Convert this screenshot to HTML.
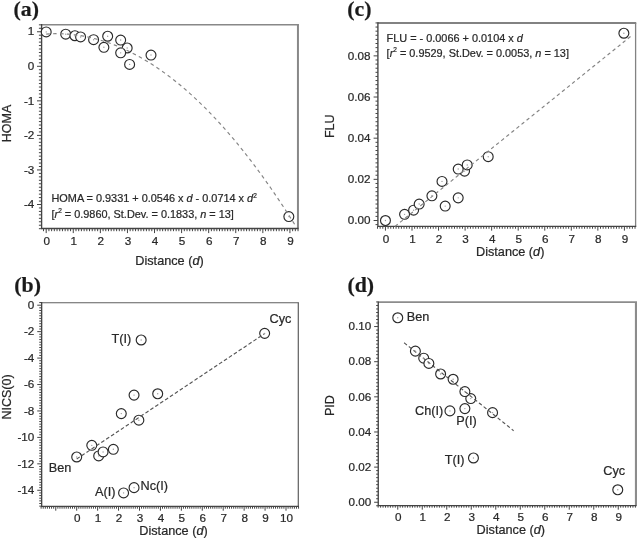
<!DOCTYPE html><html><head><meta charset="utf-8"><title>Figure</title>
<style>html,body{margin:0;padding:0;background:#fff}svg{display:block}text{stroke:#282828;stroke-width:.22px}</style></head><body>
<svg width="637" height="538" viewBox="0 0 637 538" font-family='"Liberation Sans", sans-serif' fill="#282828">
<rect width="637" height="538" fill="#fff"/>
<path d="M41.6 24.75H298.95" fill="none" stroke="#888" stroke-width="1.7"/>
<path d="M297.95 24.75V228.5" fill="none" stroke="#888" stroke-width="2.0"/>
<path d="M43.49 228.5v2.7M46.20 228.5v4.6M48.91 228.5v2.7M51.62 228.5v2.7M54.32 228.5v2.7M57.03 228.5v2.7M59.74 228.5v2.7M62.45 228.5v2.7M65.16 228.5v2.7M67.86 228.5v2.7M70.57 228.5v2.7M73.28 228.5v4.6M75.99 228.5v2.7M78.70 228.5v2.7M81.40 228.5v2.7M84.11 228.5v2.7M86.82 228.5v2.7M89.53 228.5v2.7M92.24 228.5v2.7M94.94 228.5v2.7M97.65 228.5v2.7M100.36 228.5v4.6M103.07 228.5v2.7M105.78 228.5v2.7M108.48 228.5v2.7M111.19 228.5v2.7M113.90 228.5v2.7M116.61 228.5v2.7M119.32 228.5v2.7M122.02 228.5v2.7M124.73 228.5v2.7M127.44 228.5v4.6M130.15 228.5v2.7M132.86 228.5v2.7M135.56 228.5v2.7M138.27 228.5v2.7M140.98 228.5v2.7M143.69 228.5v2.7M146.40 228.5v2.7M149.10 228.5v2.7M151.81 228.5v2.7M154.52 228.5v4.6M157.23 228.5v2.7M159.94 228.5v2.7M162.64 228.5v2.7M165.35 228.5v2.7M168.06 228.5v2.7M170.77 228.5v2.7M173.48 228.5v2.7M176.18 228.5v2.7M178.89 228.5v2.7M181.60 228.5v4.6M184.31 228.5v2.7M187.02 228.5v2.7M189.72 228.5v2.7M192.43 228.5v2.7M195.14 228.5v2.7M197.85 228.5v2.7M200.56 228.5v2.7M203.26 228.5v2.7M205.97 228.5v2.7M208.68 228.5v4.6M211.39 228.5v2.7M214.10 228.5v2.7M216.80 228.5v2.7M219.51 228.5v2.7M222.22 228.5v2.7M224.93 228.5v2.7M227.64 228.5v2.7M230.34 228.5v2.7M233.05 228.5v2.7M235.76 228.5v4.6M238.47 228.5v2.7M241.18 228.5v2.7M243.88 228.5v2.7M246.59 228.5v2.7M249.30 228.5v2.7M252.01 228.5v2.7M254.72 228.5v2.7M257.42 228.5v2.7M260.13 228.5v2.7M262.84 228.5v4.6M265.55 228.5v2.7M268.26 228.5v2.7M270.96 228.5v2.7M273.67 228.5v2.7M276.38 228.5v2.7M279.09 228.5v2.7M281.80 228.5v2.7M284.50 228.5v2.7M287.21 228.5v2.7M289.92 228.5v4.6M292.63 228.5v2.7M295.34 228.5v2.7M298.04 228.5v2.7" fill="none" stroke="#444" stroke-width="1"/>
<path d="M41.6 228.69h-2.7M41.6 225.23h-2.7M41.6 221.77h-2.7M41.6 218.32h-2.7M41.6 214.86h-2.7M41.6 211.41h-2.7M41.6 207.95h-2.7M41.6 204.50h-4.6M41.6 201.05h-2.7M41.6 197.59h-2.7M41.6 194.13h-2.7M41.6 190.68h-2.7M41.6 187.22h-2.7M41.6 183.77h-2.7M41.6 180.31h-2.7M41.6 176.86h-2.7M41.6 173.40h-2.7M41.6 169.95h-4.6M41.6 166.50h-2.7M41.6 163.04h-2.7M41.6 159.58h-2.7M41.6 156.13h-2.7M41.6 152.68h-2.7M41.6 149.22h-2.7M41.6 145.76h-2.7M41.6 142.31h-2.7M41.6 138.85h-2.7M41.6 135.40h-4.6M41.6 131.94h-2.7M41.6 128.49h-2.7M41.6 125.03h-2.7M41.6 121.58h-2.7M41.6 118.12h-2.7M41.6 114.67h-2.7M41.6 111.22h-2.7M41.6 107.76h-2.7M41.6 104.31h-2.7M41.6 100.85h-4.6M41.6 97.39h-2.7M41.6 93.94h-2.7M41.6 90.48h-2.7M41.6 87.03h-2.7M41.6 83.57h-2.7M41.6 80.12h-2.7M41.6 76.66h-2.7M41.6 73.21h-2.7M41.6 69.75h-2.7M41.6 66.30h-4.6M41.6 62.84h-2.7M41.6 59.39h-2.7M41.6 55.93h-2.7M41.6 52.48h-2.7M41.6 49.02h-2.7M41.6 45.57h-2.7M41.6 42.11h-2.7M41.6 38.66h-2.7M41.6 35.20h-2.7M41.6 31.75h-4.6M41.6 28.29h-2.7M41.6 24.84h-2.7" fill="none" stroke="#444" stroke-width="1"/>
<path d="M41.6 24.75V228.5H297.95" fill="none" stroke="#444" stroke-width="1.35" stroke-linecap="square"/>
<text x="46.70" y="244.8" text-anchor="middle" font-size="11.7">0</text>
<text x="73.78" y="244.8" text-anchor="middle" font-size="11.7">1</text>
<text x="100.86" y="244.8" text-anchor="middle" font-size="11.7">2</text>
<text x="127.94" y="244.8" text-anchor="middle" font-size="11.7">3</text>
<text x="155.02" y="244.8" text-anchor="middle" font-size="11.7">4</text>
<text x="182.10" y="244.8" text-anchor="middle" font-size="11.7">5</text>
<text x="209.18" y="244.8" text-anchor="middle" font-size="11.7">6</text>
<text x="236.26" y="244.8" text-anchor="middle" font-size="11.7">7</text>
<text x="263.34" y="244.8" text-anchor="middle" font-size="11.7">8</text>
<text x="290.42" y="244.8" text-anchor="middle" font-size="11.7">9</text>
<text x="34.3" y="208.20" text-anchor="end" font-size="11.7">-4</text>
<text x="34.3" y="173.65" text-anchor="end" font-size="11.7">-3</text>
<text x="34.3" y="139.10" text-anchor="end" font-size="11.7">-2</text>
<text x="34.3" y="104.55" text-anchor="end" font-size="11.7">-1</text>
<text x="34.3" y="70.00" text-anchor="end" font-size="11.7">0</text>
<text x="34.3" y="35.45" text-anchor="end" font-size="11.7">1</text>
<text x="169.5" y="264.8" text-anchor="middle" font-size="12.7">Distance (<tspan font-style="italic">d</tspan>)</text>
<text transform="translate(10.7 123.5) rotate(-90)" text-anchor="middle" font-size="12.5">HOMA</text>
<text x="13.6" y="16.3" font-family='"Liberation Serif", serif' font-weight="bold" font-size="21.8" fill="#1a1a1a">(a)</text>
<circle cx="46.20" cy="31.92" r="4.95" fill="#fff" stroke="#2a2a2a" stroke-width="1.15"/>
<circle cx="65.70" cy="34.17" r="4.95" fill="#fff" stroke="#2a2a2a" stroke-width="1.15"/>
<circle cx="74.90" cy="35.72" r="4.95" fill="#fff" stroke="#2a2a2a" stroke-width="1.15"/>
<circle cx="80.59" cy="36.93" r="4.95" fill="#fff" stroke="#2a2a2a" stroke-width="1.15"/>
<circle cx="93.59" cy="39.70" r="4.95" fill="#fff" stroke="#2a2a2a" stroke-width="1.15"/>
<circle cx="103.88" cy="47.30" r="4.95" fill="#fff" stroke="#2a2a2a" stroke-width="1.15"/>
<circle cx="107.67" cy="36.24" r="4.95" fill="#fff" stroke="#2a2a2a" stroke-width="1.15"/>
<circle cx="127.17" cy="47.99" r="4.95" fill="#fff" stroke="#2a2a2a" stroke-width="1.15"/>
<circle cx="120.67" cy="40.04" r="4.95" fill="#fff" stroke="#2a2a2a" stroke-width="1.15"/>
<circle cx="120.67" cy="52.83" r="4.95" fill="#fff" stroke="#2a2a2a" stroke-width="1.15"/>
<circle cx="129.61" cy="64.40" r="4.95" fill="#fff" stroke="#2a2a2a" stroke-width="1.15"/>
<circle cx="151.00" cy="55.07" r="4.95" fill="#fff" stroke="#2a2a2a" stroke-width="1.15"/>
<circle cx="288.84" cy="216.59" r="4.95" fill="#fff" stroke="#2a2a2a" stroke-width="1.15"/>
<path d="M46.20 34.06 L49.32 33.88 L52.44 33.76 L55.56 33.70 L58.68 33.72 L61.80 33.79 L64.93 33.94 L68.05 34.15 L71.17 34.42 L74.29 34.76 L77.41 35.16 L80.53 35.63 L83.65 36.17 L86.77 36.77 L89.89 37.44 L93.01 38.17 L96.14 38.97 L99.26 39.83 L102.38 40.76 L105.50 41.76 L108.62 42.82 L111.74 43.95 L114.86 45.14 L117.98 46.39 L121.10 47.72 L124.22 49.11 L127.35 50.56 L130.47 52.08 L133.59 53.66 L136.71 55.31 L139.83 57.03 L142.95 58.81 L146.07 60.66 L149.19 62.57 L152.31 64.55 L155.43 66.59 L158.55 68.70 L161.68 70.87 L164.80 73.11 L167.92 75.42 L171.04 77.79 L174.16 80.23 L177.28 82.73 L180.40 85.30 L183.52 87.93 L186.64 90.63 L189.76 93.39 L192.89 96.22 L196.01 99.12 L199.13 102.08 L202.25 105.11 L205.37 108.20 L208.49 111.36 L211.61 114.58 L214.73 117.87 L217.85 121.22 L220.97 124.64 L224.10 128.13 L227.22 131.68 L230.34 135.29 L233.46 138.98 L236.58 142.72 L239.70 146.54 L242.82 150.41 L245.94 154.36 L249.06 158.37 L252.18 162.44 L255.30 166.58 L258.43 170.79 L261.55 175.06 L264.67 179.40 L267.79 183.80 L270.91 188.27 L274.03 192.80 L277.15 197.40 L280.27 202.07 L283.39 206.80 L286.51 211.59 L289.64 216.45 L292.76 221.38 L295.88 226.37" fill="none" stroke="#848484" stroke-width="1.15" stroke-dasharray="3.6 3.3"/>
<circle cx="46.20" cy="31.92" r="0.7" fill="#9a9a9a"/>
<circle cx="65.70" cy="34.17" r="0.7" fill="#9a9a9a"/>
<circle cx="74.90" cy="35.72" r="0.7" fill="#9a9a9a"/>
<circle cx="80.59" cy="36.93" r="0.7" fill="#9a9a9a"/>
<circle cx="93.59" cy="39.70" r="0.7" fill="#9a9a9a"/>
<circle cx="103.88" cy="47.30" r="0.7" fill="#9a9a9a"/>
<circle cx="107.67" cy="36.24" r="0.7" fill="#9a9a9a"/>
<circle cx="127.17" cy="47.99" r="0.7" fill="#9a9a9a"/>
<circle cx="120.67" cy="40.04" r="0.7" fill="#9a9a9a"/>
<circle cx="120.67" cy="52.83" r="0.7" fill="#9a9a9a"/>
<circle cx="129.61" cy="64.40" r="0.7" fill="#9a9a9a"/>
<circle cx="151.00" cy="55.07" r="0.7" fill="#9a9a9a"/>
<circle cx="288.84" cy="216.59" r="0.7" fill="#9a9a9a"/>
<text x="51.5" y="202.2" font-size="10.9">HOMA = 0.9331 + 0.0546 x <tspan font-style="italic">d</tspan> - 0.0714 x <tspan font-style="italic">d</tspan><tspan font-size="6.5" dy="-4.5">2</tspan></text>
<text x="51.5" y="217.6" font-size="10.9">[<tspan font-style="italic">r</tspan><tspan font-size="6.5" dy="-4.5">2</tspan><tspan dy="4.5"> = 0.9860, St.Dev. = 0.1833, <tspan font-style="italic">n</tspan> = 13]</tspan></text>
<path d="M377.9 23.0H636.25" fill="none" stroke="#828282" stroke-width="1.8"/>
<path d="M635.6 23.0V226.35" fill="none" stroke="#828282" stroke-width="1.3"/>
<path d="M377.49 226.35v2.4M380.14 226.35v2.4M382.80 226.35v2.4M385.45 226.35v4.3M388.10 226.35v2.4M390.76 226.35v2.4M393.41 226.35v2.4M396.07 226.35v2.4M398.72 226.35v2.4M401.38 226.35v2.4M404.03 226.35v2.4M406.69 226.35v2.4M409.34 226.35v2.4M412.00 226.35v4.3M414.65 226.35v2.4M417.31 226.35v2.4M419.96 226.35v2.4M422.62 226.35v2.4M425.27 226.35v2.4M427.93 226.35v2.4M430.58 226.35v2.4M433.24 226.35v2.4M435.89 226.35v2.4M438.55 226.35v4.3M441.20 226.35v2.4M443.86 226.35v2.4M446.51 226.35v2.4M449.17 226.35v2.4M451.82 226.35v2.4M454.48 226.35v2.4M457.13 226.35v2.4M459.79 226.35v2.4M462.44 226.35v2.4M465.10 226.35v4.3M467.75 226.35v2.4M470.41 226.35v2.4M473.06 226.35v2.4M475.72 226.35v2.4M478.38 226.35v2.4M481.03 226.35v2.4M483.69 226.35v2.4M486.34 226.35v2.4M489.00 226.35v2.4M491.65 226.35v4.3M494.31 226.35v2.4M496.96 226.35v2.4M499.62 226.35v2.4M502.27 226.35v2.4M504.93 226.35v2.4M507.58 226.35v2.4M510.24 226.35v2.4M512.89 226.35v2.4M515.54 226.35v2.4M518.20 226.35v4.3M520.86 226.35v2.4M523.51 226.35v2.4M526.16 226.35v2.4M528.82 226.35v2.4M531.48 226.35v2.4M534.13 226.35v2.4M536.78 226.35v2.4M539.44 226.35v2.4M542.10 226.35v2.4M544.75 226.35v4.3M547.40 226.35v2.4M550.06 226.35v2.4M552.72 226.35v2.4M555.37 226.35v2.4M558.02 226.35v2.4M560.68 226.35v2.4M563.34 226.35v2.4M565.99 226.35v2.4M568.64 226.35v2.4M571.30 226.35v4.3M573.96 226.35v2.4M576.61 226.35v2.4M579.26 226.35v2.4M581.92 226.35v2.4M584.58 226.35v2.4M587.23 226.35v2.4M589.88 226.35v2.4M592.54 226.35v2.4M595.19 226.35v2.4M597.85 226.35v4.3M600.50 226.35v2.4M603.16 226.35v2.4M605.82 226.35v2.4M608.47 226.35v2.4M611.12 226.35v2.4M613.78 226.35v2.4M616.44 226.35v2.4M619.09 226.35v2.4M621.75 226.35v2.4M624.40 226.35v4.3M627.05 226.35v2.4M629.71 226.35v2.4M632.37 226.35v2.4M635.02 226.35v2.4" fill="none" stroke="#444" stroke-width="1"/>
<path d="M377.9 224.62h-2.4M377.9 220.50h-4.3M377.9 216.38h-2.4M377.9 212.27h-2.4M377.9 208.15h-2.4M377.9 204.04h-2.4M377.9 199.92h-2.4M377.9 195.80h-2.4M377.9 191.69h-2.4M377.9 187.57h-2.4M377.9 183.46h-2.4M377.9 179.34h-4.3M377.9 175.22h-2.4M377.9 171.11h-2.4M377.9 166.99h-2.4M377.9 162.88h-2.4M377.9 158.76h-2.4M377.9 154.64h-2.4M377.9 150.53h-2.4M377.9 146.41h-2.4M377.9 142.30h-2.4M377.9 138.18h-4.3M377.9 134.06h-2.4M377.9 129.95h-2.4M377.9 125.83h-2.4M377.9 121.72h-2.4M377.9 117.60h-2.4M377.9 113.48h-2.4M377.9 109.37h-2.4M377.9 105.25h-2.4M377.9 101.14h-2.4M377.9 97.02h-4.3M377.9 92.90h-2.4M377.9 88.79h-2.4M377.9 84.67h-2.4M377.9 80.56h-2.4M377.9 76.44h-2.4M377.9 72.32h-2.4M377.9 68.21h-2.4M377.9 64.09h-2.4M377.9 59.98h-2.4M377.9 55.86h-4.3M377.9 51.74h-2.4M377.9 47.63h-2.4M377.9 43.51h-2.4M377.9 39.40h-2.4M377.9 35.28h-2.4M377.9 31.16h-2.4M377.9 27.05h-2.4M377.9 22.93h-2.4" fill="none" stroke="#444" stroke-width="1"/>
<path d="M377.9 23.0V226.35H635.6" fill="none" stroke="#444" stroke-width="1.35" stroke-linecap="square"/>
<text x="385.95" y="242.7" text-anchor="middle" font-size="11.7">0</text>
<text x="412.50" y="242.7" text-anchor="middle" font-size="11.7">1</text>
<text x="439.05" y="242.7" text-anchor="middle" font-size="11.7">2</text>
<text x="465.60" y="242.7" text-anchor="middle" font-size="11.7">3</text>
<text x="492.15" y="242.7" text-anchor="middle" font-size="11.7">4</text>
<text x="518.70" y="242.7" text-anchor="middle" font-size="11.7">5</text>
<text x="545.25" y="242.7" text-anchor="middle" font-size="11.7">6</text>
<text x="571.80" y="242.7" text-anchor="middle" font-size="11.7">7</text>
<text x="598.35" y="242.7" text-anchor="middle" font-size="11.7">8</text>
<text x="624.90" y="242.7" text-anchor="middle" font-size="11.7">9</text>
<text x="370.5" y="224.20" text-anchor="end" font-size="11.7">0.00</text>
<text x="370.5" y="183.04" text-anchor="end" font-size="11.7">0.02</text>
<text x="370.5" y="141.88" text-anchor="end" font-size="11.7">0.04</text>
<text x="370.5" y="100.72" text-anchor="end" font-size="11.7">0.06</text>
<text x="370.5" y="59.56" text-anchor="end" font-size="11.7">0.08</text>
<text x="510.2" y="255.7" text-anchor="middle" font-size="12.7">Distance (<tspan font-style="italic">d</tspan>)</text>
<text transform="translate(334.3 126.3) rotate(-90)" text-anchor="middle" font-size="12.5">FLU</text>
<text x="347.3" y="16.2" font-family='"Liberation Serif", serif' font-weight="bold" font-size="21.8" fill="#1a1a1a">(c)</text>
<circle cx="385.45" cy="220.50" r="4.95" fill="#fff" stroke="#2a2a2a" stroke-width="1.15"/>
<circle cx="404.57" cy="214.33" r="4.95" fill="#fff" stroke="#2a2a2a" stroke-width="1.15"/>
<circle cx="413.59" cy="210.21" r="4.95" fill="#fff" stroke="#2a2a2a" stroke-width="1.15"/>
<circle cx="419.17" cy="204.04" r="4.95" fill="#fff" stroke="#2a2a2a" stroke-width="1.15"/>
<circle cx="431.91" cy="195.80" r="4.95" fill="#fff" stroke="#2a2a2a" stroke-width="1.15"/>
<circle cx="442.00" cy="181.40" r="4.95" fill="#fff" stroke="#2a2a2a" stroke-width="1.15"/>
<circle cx="445.19" cy="206.09" r="4.95" fill="#fff" stroke="#2a2a2a" stroke-width="1.15"/>
<circle cx="464.57" cy="171.11" r="4.95" fill="#fff" stroke="#2a2a2a" stroke-width="1.15"/>
<circle cx="458.20" cy="197.86" r="4.95" fill="#fff" stroke="#2a2a2a" stroke-width="1.15"/>
<circle cx="458.20" cy="169.05" r="4.95" fill="#fff" stroke="#2a2a2a" stroke-width="1.15"/>
<circle cx="467.22" cy="164.93" r="4.95" fill="#fff" stroke="#2a2a2a" stroke-width="1.15"/>
<circle cx="488.20" cy="156.70" r="4.95" fill="#fff" stroke="#2a2a2a" stroke-width="1.15"/>
<circle cx="623.87" cy="33.22" r="4.95" fill="#fff" stroke="#2a2a2a" stroke-width="1.15"/>
<path d="M395.01 226.38 L397.98 223.98 L400.96 221.58 L403.93 219.19 L406.90 216.79 L409.88 214.39 L412.85 211.99 L415.82 209.60 L418.80 207.20 L421.77 204.80 L424.74 202.41 L427.72 200.01 L430.69 197.61 L433.66 195.21 L436.64 192.82 L439.61 190.42 L442.59 188.02 L445.56 185.63 L448.53 183.23 L451.51 180.83 L454.48 178.43 L457.45 176.04 L460.43 173.64 L463.40 171.24 L466.37 168.85 L469.35 166.45 L472.32 164.05 L475.30 161.65 L478.27 159.26 L481.24 156.86 L484.22 154.46 L487.19 152.07 L490.16 149.67 L493.14 147.27 L496.11 144.87 L499.08 142.48 L502.06 140.08 L505.03 137.68 L508.00 135.29 L510.98 132.89 L513.95 130.49 L516.93 128.09 L519.90 125.70 L522.87 123.30 L525.85 120.90 L528.82 118.51 L531.79 116.11 L534.77 113.71 L537.74 111.31 L540.71 108.92 L543.69 106.52 L546.66 104.12 L549.64 101.73 L552.61 99.33 L555.58 96.93 L558.56 94.53 L561.53 92.14 L564.50 89.74 L567.48 87.34 L570.45 84.95 L573.42 82.55 L576.40 80.15 L579.37 77.75 L582.34 75.36 L585.32 72.96 L588.29 70.56 L591.27 68.17 L594.24 65.77 L597.21 63.37 L600.19 60.97 L603.16 58.58 L606.13 56.18 L609.11 53.78 L612.08 51.39 L615.05 48.99 L618.03 46.59 L621.00 44.19 L623.98 41.80 L626.95 39.40 L629.92 37.00 L632.90 34.60" fill="none" stroke="#848484" stroke-width="1.15" stroke-dasharray="3.5 3.0"/>
<circle cx="385.45" cy="220.50" r="0.7" fill="#9a9a9a"/>
<circle cx="404.57" cy="214.33" r="0.7" fill="#9a9a9a"/>
<circle cx="413.59" cy="210.21" r="0.7" fill="#9a9a9a"/>
<circle cx="419.17" cy="204.04" r="0.7" fill="#9a9a9a"/>
<circle cx="431.91" cy="195.80" r="0.7" fill="#9a9a9a"/>
<circle cx="442.00" cy="181.40" r="0.7" fill="#9a9a9a"/>
<circle cx="445.19" cy="206.09" r="0.7" fill="#9a9a9a"/>
<circle cx="464.57" cy="171.11" r="0.7" fill="#9a9a9a"/>
<circle cx="458.20" cy="197.86" r="0.7" fill="#9a9a9a"/>
<circle cx="458.20" cy="169.05" r="0.7" fill="#9a9a9a"/>
<circle cx="467.22" cy="164.93" r="0.7" fill="#9a9a9a"/>
<circle cx="488.20" cy="156.70" r="0.7" fill="#9a9a9a"/>
<circle cx="623.87" cy="33.22" r="0.7" fill="#9a9a9a"/>
<text x="386.6" y="41.6" font-size="10.9">FLU = - 0.0066 + 0.0104 x <tspan font-style="italic">d</tspan></text>
<text x="386.6" y="56.6" font-size="10.9">[<tspan font-style="italic">r</tspan><tspan font-size="6.5" dy="-4.5">2</tspan><tspan dy="4.5"> = 0.9529, St.Dev. = 0.0053, <tspan font-style="italic">n</tspan> = 13]</tspan></text>
<path d="M41.65 302.75H298.90000000000003" fill="none" stroke="#5e5e5e" stroke-width="1.2"/>
<path d="M298.3 302.75V506.3" fill="none" stroke="#5e5e5e" stroke-width="1.2"/>
<path d="M41.12 506.3v2.4M43.21 506.3v2.4M45.31 506.3v2.4M47.40 506.3v2.4M49.49 506.3v2.4M51.58 506.3v2.4M53.68 506.3v2.4M55.77 506.3v4.4M57.86 506.3v2.4M59.96 506.3v2.4M62.05 506.3v2.4M64.14 506.3v2.4M66.23 506.3v2.4M68.33 506.3v2.4M70.42 506.3v2.4M72.51 506.3v2.4M74.61 506.3v2.4M76.70 506.3v4.4M78.79 506.3v2.4M80.89 506.3v2.4M82.98 506.3v2.4M85.07 506.3v2.4M87.17 506.3v2.4M89.26 506.3v2.4M91.35 506.3v2.4M93.44 506.3v2.4M95.54 506.3v2.4M97.63 506.3v4.4M99.72 506.3v2.4M101.82 506.3v2.4M103.91 506.3v2.4M106.00 506.3v2.4M108.09 506.3v2.4M110.19 506.3v2.4M112.28 506.3v2.4M114.37 506.3v2.4M116.47 506.3v2.4M118.56 506.3v4.4M120.65 506.3v2.4M122.75 506.3v2.4M124.84 506.3v2.4M126.93 506.3v2.4M129.03 506.3v2.4M131.12 506.3v2.4M133.21 506.3v2.4M135.30 506.3v2.4M137.40 506.3v2.4M139.49 506.3v4.4M141.58 506.3v2.4M143.68 506.3v2.4M145.77 506.3v2.4M147.86 506.3v2.4M149.95 506.3v2.4M152.05 506.3v2.4M154.14 506.3v2.4M156.23 506.3v2.4M158.33 506.3v2.4M160.42 506.3v4.4M162.51 506.3v2.4M164.61 506.3v2.4M166.70 506.3v2.4M168.79 506.3v2.4M170.88 506.3v2.4M172.98 506.3v2.4M175.07 506.3v2.4M177.16 506.3v2.4M179.26 506.3v2.4M181.35 506.3v4.4M183.44 506.3v2.4M185.54 506.3v2.4M187.63 506.3v2.4M189.72 506.3v2.4M191.81 506.3v2.4M193.91 506.3v2.4M196.00 506.3v2.4M198.09 506.3v2.4M200.19 506.3v2.4M202.28 506.3v4.4M204.37 506.3v2.4M206.47 506.3v2.4M208.56 506.3v2.4M210.65 506.3v2.4M212.75 506.3v2.4M214.84 506.3v2.4M216.93 506.3v2.4M219.02 506.3v2.4M221.12 506.3v2.4M223.21 506.3v4.4M225.30 506.3v2.4M227.40 506.3v2.4M229.49 506.3v2.4M231.58 506.3v2.4M233.68 506.3v2.4M235.77 506.3v2.4M237.86 506.3v2.4M239.95 506.3v2.4M242.05 506.3v2.4M244.14 506.3v4.4M246.23 506.3v2.4M248.33 506.3v2.4M250.42 506.3v2.4M252.51 506.3v2.4M254.61 506.3v2.4M256.70 506.3v2.4M258.79 506.3v2.4M260.88 506.3v2.4M262.98 506.3v2.4M265.07 506.3v4.4M267.16 506.3v2.4M269.26 506.3v2.4M271.35 506.3v2.4M273.44 506.3v2.4M275.54 506.3v2.4M277.63 506.3v2.4M279.72 506.3v2.4M281.81 506.3v2.4M283.91 506.3v2.4M286.00 506.3v4.4M288.09 506.3v2.4M290.19 506.3v2.4M292.28 506.3v2.4M294.37 506.3v2.4M296.46 506.3v2.4M298.56 506.3v2.4" fill="none" stroke="#444" stroke-width="1"/>
<path d="M41.65 506.14h-2.4M41.65 503.50h-2.4M41.65 500.86h-2.4M41.65 498.21h-2.4M41.65 495.57h-2.4M41.65 492.92h-2.4M41.65 490.28h-4.4M41.65 487.64h-2.4M41.65 484.99h-2.4M41.65 482.35h-2.4M41.65 479.70h-2.4M41.65 477.06h-2.4M41.65 474.42h-2.4M41.65 471.77h-2.4M41.65 469.13h-2.4M41.65 466.48h-2.4M41.65 463.84h-4.4M41.65 461.20h-2.4M41.65 458.55h-2.4M41.65 455.91h-2.4M41.65 453.26h-2.4M41.65 450.62h-2.4M41.65 447.98h-2.4M41.65 445.33h-2.4M41.65 442.69h-2.4M41.65 440.04h-2.4M41.65 437.40h-4.4M41.65 434.76h-2.4M41.65 432.11h-2.4M41.65 429.47h-2.4M41.65 426.82h-2.4M41.65 424.18h-2.4M41.65 421.54h-2.4M41.65 418.89h-2.4M41.65 416.25h-2.4M41.65 413.60h-2.4M41.65 410.96h-4.4M41.65 408.32h-2.4M41.65 405.67h-2.4M41.65 403.03h-2.4M41.65 400.38h-2.4M41.65 397.74h-2.4M41.65 395.10h-2.4M41.65 392.45h-2.4M41.65 389.81h-2.4M41.65 387.16h-2.4M41.65 384.52h-4.4M41.65 381.88h-2.4M41.65 379.23h-2.4M41.65 376.59h-2.4M41.65 373.94h-2.4M41.65 371.30h-2.4M41.65 368.66h-2.4M41.65 366.01h-2.4M41.65 363.37h-2.4M41.65 360.72h-2.4M41.65 358.08h-4.4M41.65 355.44h-2.4M41.65 352.79h-2.4M41.65 350.15h-2.4M41.65 347.50h-2.4M41.65 344.86h-2.4M41.65 342.22h-2.4M41.65 339.57h-2.4M41.65 336.93h-2.4M41.65 334.28h-2.4M41.65 331.64h-4.4M41.65 329.00h-2.4M41.65 326.35h-2.4M41.65 323.71h-2.4M41.65 321.06h-2.4M41.65 318.42h-2.4M41.65 315.78h-2.4M41.65 313.13h-2.4M41.65 310.49h-2.4M41.65 307.84h-2.4M41.65 305.20h-4.4M41.65 302.56h-2.4" fill="none" stroke="#444" stroke-width="1"/>
<path d="M41.65 302.75V506.3H298.3" fill="none" stroke="#444" stroke-width="1.35" stroke-linecap="square"/>
<text x="77.20" y="521.7" text-anchor="middle" font-size="11.7">0</text>
<text x="98.13" y="521.7" text-anchor="middle" font-size="11.7">1</text>
<text x="119.06" y="521.7" text-anchor="middle" font-size="11.7">2</text>
<text x="139.99" y="521.7" text-anchor="middle" font-size="11.7">3</text>
<text x="160.92" y="521.7" text-anchor="middle" font-size="11.7">4</text>
<text x="181.85" y="521.7" text-anchor="middle" font-size="11.7">5</text>
<text x="202.78" y="521.7" text-anchor="middle" font-size="11.7">6</text>
<text x="223.71" y="521.7" text-anchor="middle" font-size="11.7">7</text>
<text x="244.64" y="521.7" text-anchor="middle" font-size="11.7">8</text>
<text x="265.57" y="521.7" text-anchor="middle" font-size="11.7">9</text>
<text x="286.50" y="521.7" text-anchor="middle" font-size="11.7">10</text>
<text x="34.3" y="308.90" text-anchor="end" font-size="11.7">0</text>
<text x="34.3" y="335.34" text-anchor="end" font-size="11.7">-2</text>
<text x="34.3" y="361.78" text-anchor="end" font-size="11.7">-4</text>
<text x="34.3" y="388.22" text-anchor="end" font-size="11.7">-6</text>
<text x="34.3" y="414.66" text-anchor="end" font-size="11.7">-8</text>
<text x="34.3" y="441.10" text-anchor="end" font-size="11.7">-10</text>
<text x="34.3" y="467.54" text-anchor="end" font-size="11.7">-12</text>
<text x="34.3" y="493.98" text-anchor="end" font-size="11.7">-14</text>
<text x="173.5" y="535.1" text-anchor="middle" font-size="12.7">Distance (<tspan font-style="italic">d</tspan>)</text>
<text transform="translate(10.8 397) rotate(-90)" text-anchor="middle" font-size="12.5">NICS(0)</text>
<text x="14.3" y="292.4" font-family='"Liberation Serif", serif' font-weight="bold" font-size="21.8" fill="#1a1a1a">(b)</text>
<circle cx="76.70" cy="456.97" r="4.95" fill="#fff" stroke="#2a2a2a" stroke-width="1.15"/>
<circle cx="91.77" cy="445.33" r="4.95" fill="#fff" stroke="#2a2a2a" stroke-width="1.15"/>
<circle cx="98.68" cy="455.91" r="4.95" fill="#fff" stroke="#2a2a2a" stroke-width="1.15"/>
<circle cx="103.07" cy="451.94" r="4.95" fill="#fff" stroke="#2a2a2a" stroke-width="1.15"/>
<circle cx="113.33" cy="449.30" r="4.95" fill="#fff" stroke="#2a2a2a" stroke-width="1.15"/>
<circle cx="121.28" cy="413.60" r="4.95" fill="#fff" stroke="#2a2a2a" stroke-width="1.15"/>
<circle cx="138.86" cy="420.21" r="4.95" fill="#fff" stroke="#2a2a2a" stroke-width="1.15"/>
<circle cx="123.58" cy="492.92" r="4.95" fill="#fff" stroke="#2a2a2a" stroke-width="1.15"/>
<circle cx="134.05" cy="487.64" r="4.95" fill="#fff" stroke="#2a2a2a" stroke-width="1.15"/>
<circle cx="141.16" cy="339.97" r="4.95" fill="#fff" stroke="#2a2a2a" stroke-width="1.15"/>
<circle cx="134.05" cy="395.10" r="4.95" fill="#fff" stroke="#2a2a2a" stroke-width="1.15"/>
<circle cx="157.70" cy="393.77" r="4.95" fill="#fff" stroke="#2a2a2a" stroke-width="1.15"/>
<circle cx="264.65" cy="333.36" r="4.95" fill="#fff" stroke="#2a2a2a" stroke-width="1.15"/>
<path d="M76.70 458.95 L79.05 457.38 L81.40 455.82 L83.75 454.25 L86.10 452.68 L88.45 451.12 L90.80 449.55 L93.15 447.98 L95.50 446.42 L97.84 444.85 L100.19 443.28 L102.54 441.72 L104.89 440.15 L107.24 438.58 L109.59 437.02 L111.94 435.45 L114.29 433.88 L116.64 432.32 L118.99 430.75 L121.34 429.18 L123.69 427.62 L126.04 426.05 L128.39 424.48 L130.74 422.92 L133.09 421.35 L135.43 419.78 L137.78 418.22 L140.13 416.65 L142.48 415.08 L144.83 413.52 L147.18 411.95 L149.53 410.38 L151.88 408.82 L154.23 407.25 L156.58 405.68 L158.93 404.12 L161.28 402.55 L163.63 400.98 L165.98 399.42 L168.33 397.85 L170.68 396.28 L173.03 394.72 L175.37 393.15 L177.72 391.58 L180.07 390.02 L182.42 388.45 L184.77 386.88 L187.12 385.32 L189.47 383.75 L191.82 382.19 L194.17 380.62 L196.52 379.05 L198.87 377.49 L201.22 375.92 L203.57 374.35 L205.92 372.79 L208.27 371.22 L210.62 369.65 L212.96 368.09 L215.31 366.52 L217.66 364.95 L220.01 363.39 L222.36 361.82 L224.71 360.25 L227.06 358.69 L229.41 357.12 L231.76 355.55 L234.11 353.99 L236.46 352.42 L238.81 350.85 L241.16 349.29 L243.51 347.72 L245.86 346.15 L248.21 344.59 L250.56 343.02 L252.90 341.45 L255.25 339.89 L257.60 338.32 L259.95 336.75 L262.30 335.19 L264.65 333.62" fill="none" stroke="#555" stroke-width="1.15" stroke-dasharray="3.7 2.2"/>
<circle cx="76.70" cy="456.97" r="0.7" fill="#9a9a9a"/>
<circle cx="91.77" cy="445.33" r="0.7" fill="#9a9a9a"/>
<circle cx="98.68" cy="455.91" r="0.7" fill="#9a9a9a"/>
<circle cx="103.07" cy="451.94" r="0.7" fill="#9a9a9a"/>
<circle cx="113.33" cy="449.30" r="0.7" fill="#9a9a9a"/>
<circle cx="121.28" cy="413.60" r="0.7" fill="#9a9a9a"/>
<circle cx="138.86" cy="420.21" r="0.7" fill="#9a9a9a"/>
<circle cx="123.58" cy="492.92" r="0.7" fill="#9a9a9a"/>
<circle cx="134.05" cy="487.64" r="0.7" fill="#9a9a9a"/>
<circle cx="141.16" cy="339.97" r="0.7" fill="#9a9a9a"/>
<circle cx="134.05" cy="395.10" r="0.7" fill="#9a9a9a"/>
<circle cx="157.70" cy="393.77" r="0.7" fill="#9a9a9a"/>
<circle cx="264.65" cy="333.36" r="0.7" fill="#9a9a9a"/>
<text x="48.8" y="471.6" font-size="12.7">Ben</text>
<text x="95" y="496" font-size="12.7">A(I)</text>
<text x="140.5" y="489.7" font-size="12.7">Nc(I)</text>
<text x="111.5" y="342.8" font-size="12.7">T(I)</text>
<text x="269.5" y="322.5" font-size="12.7">Cyc</text>
<path d="M378.25 302.05H637.0" fill="none" stroke="#8c8c8c" stroke-width="1.7"/>
<path d="M635.95 302.05V505.55" fill="none" stroke="#8c8c8c" stroke-width="2.1"/>
<path d="M378.15 505.55v2.1M380.60 505.55v2.1M383.05 505.55v2.1M385.50 505.55v2.1M387.95 505.55v2.1M390.40 505.55v2.1M392.85 505.55v2.1M395.30 505.55v2.1M397.75 505.55v4.1M400.20 505.55v2.1M402.65 505.55v2.1M405.10 505.55v2.1M407.55 505.55v2.1M410.00 505.55v2.1M412.45 505.55v2.1M414.90 505.55v2.1M417.35 505.55v2.1M419.80 505.55v2.1M422.25 505.55v4.1M424.70 505.55v2.1M427.15 505.55v2.1M429.60 505.55v2.1M432.05 505.55v2.1M434.50 505.55v2.1M436.95 505.55v2.1M439.40 505.55v2.1M441.85 505.55v2.1M444.30 505.55v2.1M446.75 505.55v4.1M449.20 505.55v2.1M451.65 505.55v2.1M454.10 505.55v2.1M456.55 505.55v2.1M459.00 505.55v2.1M461.45 505.55v2.1M463.90 505.55v2.1M466.35 505.55v2.1M468.80 505.55v2.1M471.25 505.55v4.1M473.70 505.55v2.1M476.15 505.55v2.1M478.60 505.55v2.1M481.05 505.55v2.1M483.50 505.55v2.1M485.95 505.55v2.1M488.40 505.55v2.1M490.85 505.55v2.1M493.30 505.55v2.1M495.75 505.55v4.1M498.20 505.55v2.1M500.65 505.55v2.1M503.10 505.55v2.1M505.55 505.55v2.1M508.00 505.55v2.1M510.45 505.55v2.1M512.90 505.55v2.1M515.35 505.55v2.1M517.80 505.55v2.1M520.25 505.55v4.1M522.70 505.55v2.1M525.15 505.55v2.1M527.60 505.55v2.1M530.05 505.55v2.1M532.50 505.55v2.1M534.95 505.55v2.1M537.40 505.55v2.1M539.85 505.55v2.1M542.30 505.55v2.1M544.75 505.55v4.1M547.20 505.55v2.1M549.65 505.55v2.1M552.10 505.55v2.1M554.55 505.55v2.1M557.00 505.55v2.1M559.45 505.55v2.1M561.90 505.55v2.1M564.35 505.55v2.1M566.80 505.55v2.1M569.25 505.55v4.1M571.70 505.55v2.1M574.15 505.55v2.1M576.60 505.55v2.1M579.05 505.55v2.1M581.50 505.55v2.1M583.95 505.55v2.1M586.40 505.55v2.1M588.85 505.55v2.1M591.30 505.55v2.1M593.75 505.55v4.1M596.20 505.55v2.1M598.65 505.55v2.1M601.10 505.55v2.1M603.55 505.55v2.1M606.00 505.55v2.1M608.45 505.55v2.1M610.90 505.55v2.1M613.35 505.55v2.1M615.80 505.55v2.1M618.25 505.55v4.1M620.70 505.55v2.1M623.15 505.55v2.1M625.60 505.55v2.1M628.05 505.55v2.1M630.50 505.55v2.1M632.95 505.55v2.1M635.40 505.55v2.1" fill="none" stroke="#444" stroke-width="1"/>
<path d="M378.25 505.76h-2.1M378.25 502.25h-4.1M378.25 498.74h-2.1M378.25 495.22h-2.1M378.25 491.71h-2.1M378.25 488.19h-2.1M378.25 484.68h-2.1M378.25 481.17h-2.1M378.25 477.65h-2.1M378.25 474.14h-2.1M378.25 470.62h-2.1M378.25 467.11h-4.1M378.25 463.60h-2.1M378.25 460.08h-2.1M378.25 456.57h-2.1M378.25 453.05h-2.1M378.25 449.54h-2.1M378.25 446.03h-2.1M378.25 442.51h-2.1M378.25 439.00h-2.1M378.25 435.48h-2.1M378.25 431.97h-4.1M378.25 428.46h-2.1M378.25 424.94h-2.1M378.25 421.43h-2.1M378.25 417.91h-2.1M378.25 414.40h-2.1M378.25 410.89h-2.1M378.25 407.37h-2.1M378.25 403.86h-2.1M378.25 400.34h-2.1M378.25 396.83h-4.1M378.25 393.32h-2.1M378.25 389.80h-2.1M378.25 386.29h-2.1M378.25 382.77h-2.1M378.25 379.26h-2.1M378.25 375.75h-2.1M378.25 372.23h-2.1M378.25 368.72h-2.1M378.25 365.20h-2.1M378.25 361.69h-4.1M378.25 358.18h-2.1M378.25 354.66h-2.1M378.25 351.15h-2.1M378.25 347.63h-2.1M378.25 344.12h-2.1M378.25 340.61h-2.1M378.25 337.09h-2.1M378.25 333.58h-2.1M378.25 330.06h-2.1M378.25 326.55h-4.1M378.25 323.04h-2.1M378.25 319.52h-2.1M378.25 316.01h-2.1M378.25 312.49h-2.1M378.25 308.98h-2.1M378.25 305.47h-2.1M378.25 301.95h-2.1" fill="none" stroke="#444" stroke-width="1"/>
<path d="M378.25 302.05V505.55H635.95" fill="none" stroke="#444" stroke-width="1.35" stroke-linecap="square"/>
<text x="398.25" y="521" text-anchor="middle" font-size="11.7">0</text>
<text x="422.75" y="521" text-anchor="middle" font-size="11.7">1</text>
<text x="447.25" y="521" text-anchor="middle" font-size="11.7">2</text>
<text x="471.75" y="521" text-anchor="middle" font-size="11.7">3</text>
<text x="496.25" y="521" text-anchor="middle" font-size="11.7">4</text>
<text x="520.75" y="521" text-anchor="middle" font-size="11.7">5</text>
<text x="545.25" y="521" text-anchor="middle" font-size="11.7">6</text>
<text x="569.75" y="521" text-anchor="middle" font-size="11.7">7</text>
<text x="594.25" y="521" text-anchor="middle" font-size="11.7">8</text>
<text x="618.75" y="521" text-anchor="middle" font-size="11.7">9</text>
<text x="371.2" y="505.95" text-anchor="end" font-size="11.7">0.00</text>
<text x="371.2" y="470.81" text-anchor="end" font-size="11.7">0.02</text>
<text x="371.2" y="435.67" text-anchor="end" font-size="11.7">0.04</text>
<text x="371.2" y="400.53" text-anchor="end" font-size="11.7">0.06</text>
<text x="371.2" y="365.39" text-anchor="end" font-size="11.7">0.08</text>
<text x="371.2" y="330.25" text-anchor="end" font-size="11.7">0.10</text>
<text x="510.8" y="534" text-anchor="middle" font-size="12.7">Distance (<tspan font-style="italic">d</tspan>)</text>
<text transform="translate(334.4 405.7) rotate(-90)" text-anchor="middle" font-size="12.5">PID</text>
<text x="347.4" y="292.4" font-family='"Liberation Serif", serif' font-weight="bold" font-size="21.8" fill="#1a1a1a">(d)</text>
<circle cx="397.75" cy="317.76" r="4.95" fill="#fff" stroke="#2a2a2a" stroke-width="1.15"/>
<circle cx="415.39" cy="351.15" r="4.95" fill="#fff" stroke="#2a2a2a" stroke-width="1.15"/>
<circle cx="423.72" cy="358.18" r="4.95" fill="#fff" stroke="#2a2a2a" stroke-width="1.15"/>
<circle cx="428.87" cy="363.45" r="4.95" fill="#fff" stroke="#2a2a2a" stroke-width="1.15"/>
<circle cx="440.62" cy="373.99" r="4.95" fill="#fff" stroke="#2a2a2a" stroke-width="1.15"/>
<circle cx="453.12" cy="379.26" r="4.95" fill="#fff" stroke="#2a2a2a" stroke-width="1.15"/>
<circle cx="470.76" cy="398.59" r="4.95" fill="#fff" stroke="#2a2a2a" stroke-width="1.15"/>
<circle cx="464.88" cy="391.56" r="4.95" fill="#fff" stroke="#2a2a2a" stroke-width="1.15"/>
<circle cx="492.56" cy="412.64" r="4.95" fill="#fff" stroke="#2a2a2a" stroke-width="1.15"/>
<circle cx="449.94" cy="410.89" r="4.95" fill="#fff" stroke="#2a2a2a" stroke-width="1.15"/>
<circle cx="464.88" cy="408.60" r="4.95" fill="#fff" stroke="#2a2a2a" stroke-width="1.15"/>
<circle cx="473.45" cy="457.97" r="4.95" fill="#fff" stroke="#2a2a2a" stroke-width="1.15"/>
<circle cx="617.76" cy="489.78" r="4.95" fill="#fff" stroke="#2a2a2a" stroke-width="1.15"/>
<path d="M404.12 342.74 L405.49 343.84 L406.86 344.93 L408.23 346.03 L409.60 347.13 L410.96 348.23 L412.33 349.33 L413.70 350.43 L415.07 351.53 L416.44 352.63 L417.81 353.73 L419.18 354.83 L420.55 355.93 L421.92 357.03 L423.29 358.13 L424.65 359.23 L426.02 360.33 L427.39 361.43 L428.76 362.53 L430.13 363.63 L431.50 364.73 L432.87 365.83 L434.24 366.93 L435.61 368.02 L436.97 369.12 L438.34 370.22 L439.71 371.32 L441.08 372.42 L442.45 373.52 L443.82 374.62 L445.19 375.72 L446.56 376.82 L447.93 377.92 L449.29 379.02 L450.66 380.12 L452.03 381.22 L453.40 382.32 L454.77 383.42 L456.14 384.52 L457.51 385.62 L458.88 386.72 L460.25 387.82 L461.62 388.92 L462.98 390.02 L464.35 391.11 L465.72 392.21 L467.09 393.31 L468.46 394.41 L469.83 395.51 L471.20 396.61 L472.57 397.71 L473.94 398.81 L475.30 399.91 L476.67 401.01 L478.04 402.11 L479.41 403.21 L480.78 404.31 L482.15 405.41 L483.52 406.51 L484.89 407.61 L486.26 408.71 L487.63 409.81 L488.99 410.91 L490.36 412.01 L491.73 413.11 L493.10 414.20 L494.47 415.30 L495.84 416.40 L497.21 417.50 L498.58 418.60 L499.95 419.70 L501.31 420.80 L502.68 421.90 L504.05 423.00 L505.42 424.10 L506.79 425.20 L508.16 426.30 L509.53 427.40 L510.90 428.50 L512.27 429.60 L513.63 430.70" fill="none" stroke="#555" stroke-width="1.15" stroke-dasharray="3.6 2.4"/>
<circle cx="397.75" cy="317.76" r="0.7" fill="#9a9a9a"/>
<circle cx="415.39" cy="351.15" r="0.7" fill="#9a9a9a"/>
<circle cx="423.72" cy="358.18" r="0.7" fill="#9a9a9a"/>
<circle cx="428.87" cy="363.45" r="0.7" fill="#9a9a9a"/>
<circle cx="440.62" cy="373.99" r="0.7" fill="#9a9a9a"/>
<circle cx="453.12" cy="379.26" r="0.7" fill="#9a9a9a"/>
<circle cx="470.76" cy="398.59" r="0.7" fill="#9a9a9a"/>
<circle cx="464.88" cy="391.56" r="0.7" fill="#9a9a9a"/>
<circle cx="492.56" cy="412.64" r="0.7" fill="#9a9a9a"/>
<circle cx="449.94" cy="410.89" r="0.7" fill="#9a9a9a"/>
<circle cx="464.88" cy="408.60" r="0.7" fill="#9a9a9a"/>
<circle cx="473.45" cy="457.97" r="0.7" fill="#9a9a9a"/>
<circle cx="617.76" cy="489.78" r="0.7" fill="#9a9a9a"/>
<text x="406.8" y="321" font-size="12.7">Ben</text>
<text x="415" y="414.8" font-size="12.7">Ch(I)</text>
<text x="456.3" y="425.1" font-size="12.7">P(I)</text>
<text x="444.8" y="463.8" font-size="12.7">T(I)</text>
<text x="603.3" y="474.6" font-size="12.7">Cyc</text>
</svg></body></html>
